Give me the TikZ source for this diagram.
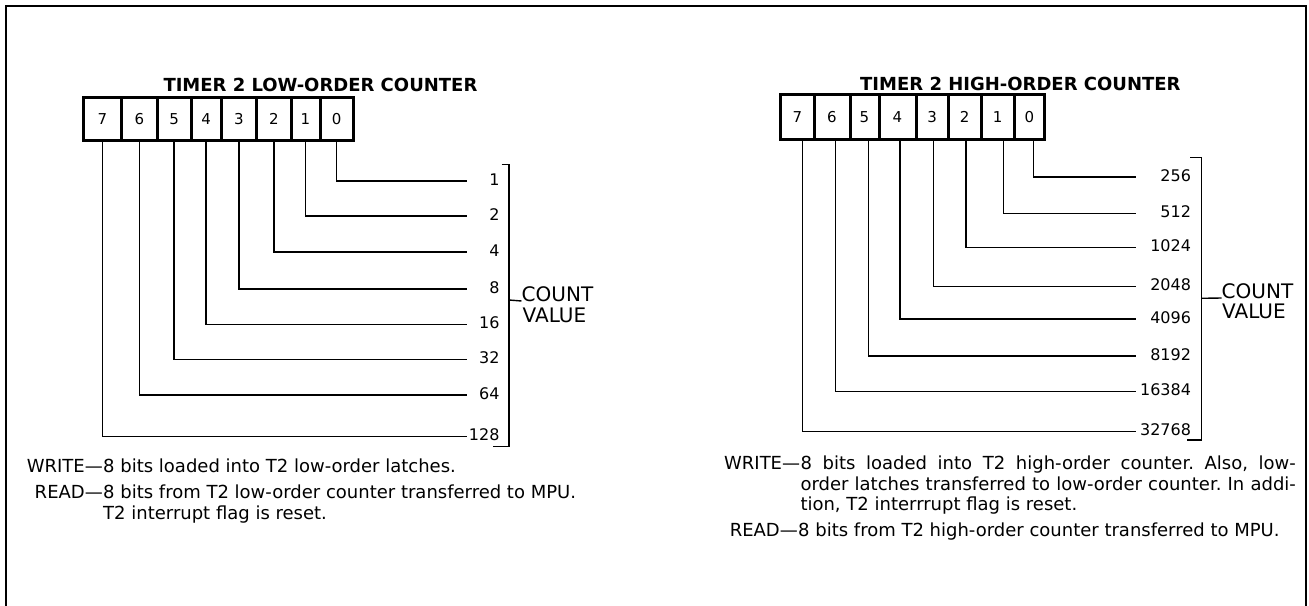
\documentclass[tikz,border=0pt]{standalone}
\usepackage{fontspec}
\setmainfont{DejaVu Sans}
\frenchspacing
\begin{document}
\begin{tikzpicture}[x=1pt,y=-1pt,
  frame/.style={line width=2pt},
  cell/.style={draw, line width=3pt, inner sep=0pt, outer sep=0pt, font=\fontsize{15}{18}\selectfont},
  conn/.style={line width=1.4pt},
  numL/.style={inner sep=0pt, outer sep=0pt, anchor=west, text width=33pt, align=right, text height=8pt, text depth=0pt, font=\fontsize{16}{19}\selectfont},
  numR/.style={numL, text width=55.5pt},
  title/.style={inner sep=0pt, anchor=base west, font=\fontsize{18}{21}\selectfont\bfseries},
  body/.style={inner sep=0pt, font=\fontsize{18}{21}\selectfont},
  cnt/.style={inner sep=0pt, anchor=base west, font=\fontsize{20}{23}\selectfont}]
\useasboundingbox (0,0) rectangle (1309,605);
\draw[frame] (6,606) -- (6,6) -- (1306,6) -- (1306,606);

% ---------- left: low-order counter ----------
\node[title] (tL) at (163.3,91.7) {TIMER 2 LOW-ORDER COUNTER};
\foreach \n/\cx/\w in {7/102.35/38.7, 6/139.45/35.5, 5/174.1/33.8, 4/206.15/30.3, 3/239/35.4, 2/273.85/34.3, 1/305.5/29, 0/336.75/33.5}
  \node[cell, minimum width=\w pt, minimum height=42.7pt] (L\n) at (\cx,118.9) {\n};
\foreach \n/\y/\v in {0/181/1, 1/216/2, 2/252/4, 3/289/8, 4/324.3/16, 5/359.3/32, 6/395/64, 7/436.7/128}
  {\node[numL] (LV\n) at (466.5,\y) {\v};
   \draw[conn] (L\n.south) |- (LV\n.west);}
\coordinate (LB) at (509,300);
\draw[conn] (501.7,164.3) -- (509,164.3) -- (509,446.7) -- (493,446.7);
\node[cnt] (LC) at (521.5,301) {COUNT};
\node[cnt] (LVa) at (522.5,322.5) {VALUE};
\draw[conn] (LB) -- (LC.base west);
\node[body, anchor=base east] (LW) at (103,472.7) {WRITE—};
\node[body, anchor=base west] (LWt) at (103,472.7) {8 bits loaded into T2 low-order latches.};
\node[body, anchor=base east] (LR) at (103,498.5) {READ—};
\node[body, anchor=base west] (LRt) at (103,498.5) {8 bits from T2 low-order counter transferred to MPU.};
\node[body, anchor=base west] (LRt2) at (103,519.3) {T2 interrupt flag is reset.};

% ---------- right: high-order counter ----------
\node[title] (tR) at (860,90) {TIMER 2 HIGH-ORDER COUNTER};
\foreach \n/\cx/\w in {7/797.4/33.2, 6/832/36, 5/864.5/29, 4/897.5/37, 3/932.15/32.3, 2/964.65/32.7, 1/997.65/33.3, 0/1029.4/30.2}
  \node[cell, minimum width=\w pt, minimum height=44.4pt] (H\n) at (\cx,117) {\n};
\foreach \n/\y/\v/\o in {0/177/256/3.9, 1/213.7/512/5.65, 2/247.7/1024/1.35, 3/286.7/2048/1.15, 4/319/4096/2.5, 5/356/8192/3.8, 6/391.7/16384/3.7, 7/431.7/32768/5.3}
  {\node[numR] (HV\n) at (1135.5,\y) {\v};
   \draw[conn] ([xshift=\o pt]H\n.south) |- (HV\n.west);}
\coordinate (HB) at (1201.5,298.3);
\draw[conn] (1190,157.3) -- (1201.5,157.3) -- (1201.5,440) -- (1187.4,440);
\node[cnt] (HC) at (1221.5,298) {COUNT};
\node[cnt] (HVa) at (1222,318.5) {VALUE};
\draw[conn] (HB) -- (HC.base west);
\node[body, anchor=base east] (HW) at (800.3,469.3) {WRITE—};
\node[body, anchor=base west] (HW1) at (800.3,469.3) {\makebox[495.4pt][s]{8 bits loaded into T2 high-order counter. Also, low-}};
\node[body, anchor=base west] (HW2) at (800.3,490) {\makebox[495.4pt][s]{order latches transferred to low-order counter. In addi-}};
\node[body, anchor=base west] (HW3) at (800.3,510.5) {tion, T2 interrrupt flag is reset.};
\node[body, anchor=base east] (HR) at (798,536.7) {READ—};
\node[body, anchor=base west] (HRt) at (798,536.7) {8 bits from T2 high-order counter transferred to MPU.};
\end{tikzpicture}
\end{document}
